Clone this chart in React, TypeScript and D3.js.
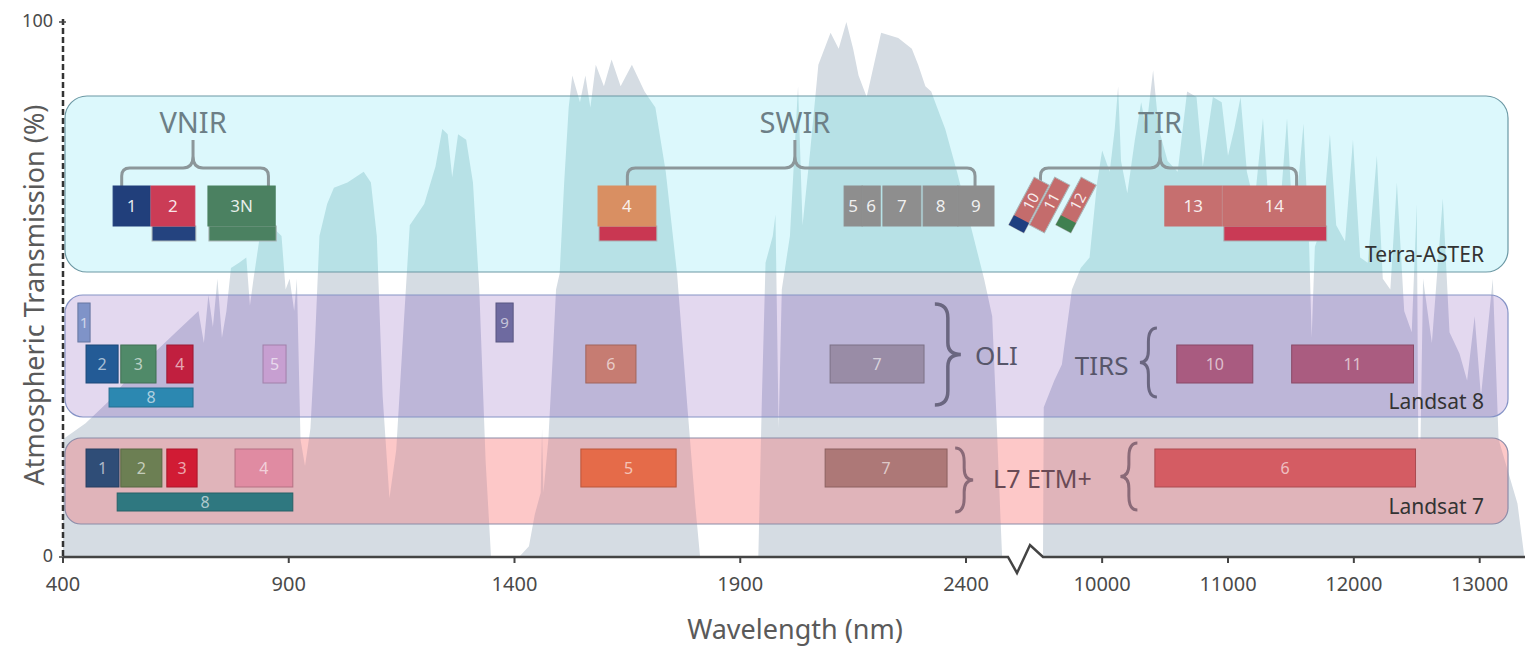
import React from "react";
import * as d3 from "d3";

const W = 1537;
const H = 647;

// atmospheric transmission, [wavelength nm, %]
const TRANSMISSION_VIS_SWIR: [number, number][] = [
  [400, 22], [450, 25], [500, 29], [550, 34], [600, 38], [650, 42], [700, 46],
  [712, 40], [722, 49], [732, 43], [742, 52], [752, 41], [762, 46], [772, 54],
  [790, 55], [806, 56], [814, 47], [822, 52], [836, 60], [860, 62], [884, 60],
  [893, 50], [902, 52], [912, 46], [918, 52], [926, 22], [936, 17], [948, 24],
  [958, 40], [968, 60], [985, 66], [1000, 69], [1030, 70], [1066, 72], [1082, 70],
  [1095, 60], [1108, 30], [1123, 11], [1138, 20], [1155, 44], [1168, 62], [1200, 66],
  [1225, 73], [1240, 80], [1252, 79], [1262, 71], [1275, 79], [1293, 78], [1308, 70],
  [1322, 50], [1336, 18], [1348, 0], [1410, 0], [1432, 2], [1445, 8], [1458, 12],
  [1461, 24], [1464, 12], [1475, 22], [1485, 38], [1492, 50], [1500, 53], [1510, 70],
  [1520, 84], [1528, 90], [1545, 85], [1557, 90], [1568, 84], [1580, 92], [1598, 88],
  [1615, 93], [1635, 88], [1660, 92], [1688, 87], [1712, 84], [1735, 72], [1760, 53],
  [1782, 29], [1800, 10], [1811, 0], [1940, 0], [1948, 30], [1956, 55], [1972, 60],
  [1978, 64], [1985, 24], [1992, 50], [2010, 60], [2028, 88], [2038, 62], [2055, 76],
  [2073, 92], [2100, 98], [2118, 95], [2135, 100], [2150, 95], [2162, 90], [2180, 86],
  [2196, 92], [2212, 98], [2250, 97], [2280, 95], [2294, 92], [2310, 88], [2323, 87],
  [2336, 84], [2354, 80], [2380, 72], [2410, 62], [2440, 52], [2458, 45], [2468, 25],
  [2476, 8], [2480, 0],
];

const TRANSMISSION_TIR: [number, number][] = [
  [9530, 0], [9536, 28], [9620, 33], [9680, 36], [9760, 50], [9830, 54], [9900, 56],
  [9960, 70], [10000, 76], [10060, 72], [10100, 80], [10127, 88], [10150, 74],
  [10200, 68], [10260, 78], [10310, 85], [10350, 80], [10405, 91], [10450, 80],
  [10520, 74], [10600, 72], [10675, 87], [10750, 86], [10800, 73], [10880, 86],
  [10950, 85], [11000, 75], [11050, 80], [11100, 86], [11150, 72], [11210, 66],
  [11278, 82], [11330, 63], [11400, 61], [11469, 82], [11520, 60], [11600, 81],
  [11645, 58], [11665, 41], [11690, 58], [11750, 62], [11810, 79], [11860, 62],
  [11930, 59], [11993, 78], [12050, 56], [12110, 55], [12183, 75], [12230, 52],
  [12290, 50], [12342, 70], [12400, 46], [12460, 42], [12500, 66], [12512, 22],
  [12530, 22], [12550, 52], [12620, 40], [12707, 67], [12760, 42], [12840, 38],
  [12900, 33], [12960, 45], [13010, 30], [13104, 52], [13150, 22], [13200, 18],
  [13300, 10], [13355, 0],
];

const TICKS_VIS_SWIR = [400, 900, 1400, 1900, 2400];
const TICKS_TIR = [10000, 11000, 12000, 13000];
const Y_TICKS = [0, 100];

type Band = { name: string; lo: number; hi: number };

// Terra-ASTER
const ASTER_BANDS: Band[] = [
  { name: "1", lo: 511, hi: 593 },
  { name: "2", lo: 595, hi: 692 },
  { name: "3N", lo: 721, hi: 870 },
  { name: "4", lo: 1585, hi: 1713 },
  { name: "5", lo: 2130, hi: 2170 },
  { name: "6", lo: 2170, hi: 2210 },
  { name: "7", lo: 2216, hi: 2300 },
  { name: "8", lo: 2305, hi: 2382 },
  { name: "9", lo: 2382, hi: 2462 },
  { name: "13", lo: 10498, hi: 10951 },
  { name: "14", lo: 10959, hi: 11776 },
];
// off-axis TIR bands drawn tilted inside the axis break
const ASTER_TILTED: Band[] = [
  { name: "10", lo: 8125, hi: 8475 },
  { name: "11", lo: 8475, hi: 8825 },
  { name: "12", lo: 8925, hi: 9275 },
];
const ASTER_GROUPS = [
  { label: "VNIR", lo: 530, hi: 855, mid: 688 },
  { label: "SWIR", lo: 1650, hi: 2420, mid: 2021 },
  { label: "TIR", lo: 9510, hi: 11545, mid: 10460 },
];

// Landsat 8 (OLI + TIRS)
const L8_NARROW: Band[] = [
  { name: "1", lo: 433, hi: 460 },
  { name: "9", lo: 1359, hi: 1397 },
];
const L8_MAIN: Band[] = [
  { name: "2", lo: 451, hi: 522 },
  { name: "3", lo: 528, hi: 606 },
  { name: "4", lo: 630, hi: 688 },
  { name: "5", lo: 843, hi: 894 },
  { name: "6", lo: 1558, hi: 1669 },
  { name: "7", lo: 2099, hi: 2307 },
  { name: "10", lo: 10593, hi: 11197 },
  { name: "11", lo: 11506, hi: 12474 },
];
const L8_PAN: Band[] = [{ name: "8", lo: 502, hi: 688 }];

// Landsat 7 ETM+
const L7_MAIN: Band[] = [
  { name: "1", lo: 451, hi: 524 },
  { name: "2", lo: 528, hi: 619 },
  { name: "3", lo: 630, hi: 697 },
  { name: "4", lo: 781, hi: 909 },
  { name: "5", lo: 1547, hi: 1758 },
  { name: "7", lo: 2088, hi: 2358 },
  { name: "6", lo: 10419, hi: 12490 },
];
const L7_PAN: Band[] = [{ name: "8", lo: 520, hi: 909 }];

// colours
const ASTER_COLOR: Record<string, string> = {
  "1": "#213f7b", "2": "#cb3c56", "3N": "#4b8161", "4": "#d98f62",
  "5": "#8e8e8e", "6": "#8e8e8e", "7": "#8e8e8e", "8": "#8e8e8e", "9": "#8e8e8e",
  "10": "#c46c6c", "11": "#c46c6c", "12": "#c46c6c", "13": "#c66f6f", "14": "#c66f6f",
};
const ASTER_STRIP: Record<string, string> = {
  "2": "#24437f", "3N": "#4b8161", "4": "#c93752", "14": "#c93a55",
  "10": "#1e3f80", "12": "#3f8050",
};
const L8_COLOR: Record<string, string> = {
  "1": "#7f93c8", "2": "#235b96", "3": "#508a69", "4": "#c11f3f", "5": "#c79fd1",
  "6": "#c67c72", "7": "#998ca6", "8": "#2c88b1", "9": "#6e6aa0", "10": "#a95b80",
  "11": "#aa5c80",
};
const L7_COLOR: Record<string, string> = {
  "1": "#2f4d77", "2": "#6c7f53", "3": "#d11b34", "4": "#e08ba2", "5": "#e56b49",
  "7": "#ad7877", "8": "#2f7880", "6": "#d45c63",
};

const FONT = "'Noto Sans', 'Open Sans', sans-serif";

// scales: broken x axis (VIS/SWIR | TIR)
const xVis = d3.scaleLinear().domain([400, 2493]).range([63, 1008]);
const xTir = d3.scaleLinear().domain([9530, 13360]).range([1043, 1525]);
const xs = (nm: number) => (nm < 5000 ? xVis(nm) : xTir(nm));
const xTilt = d3.scaleLinear().domain([8300, 9100]).range([1029, 1076]);
const y = d3.scaleLinear().domain([0, 100]).range([557, 22]);

// sensor panels: background, curve tint inside, border
const PANELS = [
  { id: "aster", y0: 96, y1: 272, rx: 22, fill: "#dcf8fc", curve: "#b7e1e6", stroke: "#6b98a4" },
  { id: "l8", y0: 295, y1: 417, rx: 18, fill: "#e3d8ef", curve: "#bdb6d8", stroke: "#8593c6" },
  { id: "l7", y0: 438, y1: 524, rx: 16, fill: "#fdc8c8", curve: "#e0b4ba", stroke: "#8c8ca8" },
];

const hBrace = (x0: number, x1: number, xm: number, yl: number, yb: number, tip: number) => {
  const r = 8;
  return (
    `M${x0},${yb} V${yl + r} Q${x0},${yl} ${x0 + r},${yl} H${xm - 10} Q${xm},${yl} ${xm},${yl - 12} V${yl - tip}` +
    `M${xm},${yl - tip} V${yl - 12} Q${xm},${yl} ${xm + 10},${yl} H${x1 - r} Q${x1},${yl} ${x1},${yl + r} V${yb}`
  );
};

// vertical curly brace; dir 1 = "}" (tip to the right), -1 = "{"
const vBrace = (x: number, y0: number, y1: number, w: number, dir: number) => {
  const ym = (y0 + y1) / 2;
  const xc = x + dir * w * 0.5;
  const xt = x + dir * w;
  return `M${x},${y0} Q${xc},${y0} ${xc},${y0 + 14} V${ym - 12} Q${xc},${ym} ${xt},${ym} Q${xc},${ym} ${xc},${ym + 12} V${y1 - 14} Q${xc},${y1} ${x},${y1}`;
};

const BandRect = ({
  b, y0, h, fill, stroke, label, fs,
}: { b: Band; y0: number; h: number; fill: string; stroke: string; label: string; fs: number }) => {
  const x0 = xs(b.lo);
  const x1 = xs(b.hi);
  return (
    <g>
      <rect x={x0} y={y0} width={x1 - x0} height={h} fill={fill} stroke={stroke} strokeWidth={1} />
      <text x={(x0 + x1) / 2} y={y0 + h / 2} dy="0.36em" textAnchor="middle" fontSize={fs}
        fontFamily={FONT} fill={label}>{b.name}</text>
    </g>
  );
};

export default function App() {
  const area = d3
    .area<[number, number]>()
    .x((d) => xs(d[0]))
    .y0(y(0))
    .y1((d) => y(d[1]));
  const curveVis = area(TRANSMISSION_VIS_SWIR) || "";
  const curveTir = area(TRANSMISSION_TIR) || "";

  const axisPath = `M${xVis(400)},${y(0)} H${xVis(2493)} L${xVis(2493) + 9},${y(0) + 16} L${xTir(9530) - 13},${y(0) - 12} L${xTir(9530)},${y(0)} H${xTir(13360)}`;

  const boxX0 = 65;
  const boxX1 = 1508;
  const fadedLabel = "rgba(255,255,255,0.62)";

  return (
    <svg width={W} height={H} style={{ position: "fixed", left: 0, top: 0, display: "block" }}>
      <defs>
        {PANELS.map((p) => (
          <clipPath key={p.id} id={`clip-${p.id}`}>
            <rect x={boxX0} y={p.y0} width={boxX1 - boxX0} height={p.y1 - p.y0} rx={p.rx} />
          </clipPath>
        ))}
      </defs>
      <rect width={W} height={H} fill="#ffffff" />

      {/* transmission curve */}
      <path d={curveVis} fill="#d5dce3" />
      <path d={curveTir} fill="#d5dce3" />

      {/* sensor panels with tinted curve inside */}
      {PANELS.map((p) => (
        <g key={p.id}>
          <rect x={boxX0} y={p.y0} width={boxX1 - boxX0} height={p.y1 - p.y0} rx={p.rx} fill={p.fill} />
          <g clipPath={`url(#clip-${p.id})`}>
            <path d={curveVis} fill={p.curve} />
            <path d={curveTir} fill={p.curve} />
          </g>
          <rect x={boxX0} y={p.y0} width={boxX1 - boxX0} height={p.y1 - p.y0} rx={p.rx}
            fill="none" stroke={p.stroke} strokeWidth={1.2} />
        </g>
      ))}

      {/* y axis */}
      <line x1={63} x2={63} y1={y(100) - 3} y2={y(0)} stroke="#333" strokeWidth={2.5} strokeDasharray="6 3" />
      {Y_TICKS.map((t) => (
        <g key={t}>
          <line x1={59} x2={66} y1={y(t)} y2={y(t)} stroke="#444" strokeWidth={1.5} />
          <text x={53} y={y(t)} dy="0.3em" textAnchor="end" fontSize={18} fontFamily={FONT} fill="#4a4a4a">{t}</text>
        </g>
      ))}
      <text transform={`translate(44,295) rotate(-90)`} textAnchor="middle" fontSize={27} fontFamily={FONT} fill="#5a5a5a">
        Atmospheric Transmission (%)
      </text>

      {/* x axis with break */}
      <path d={axisPath} fill="none" stroke="#444" strokeWidth={2.5} strokeLinejoin="miter" />
      {TICKS_VIS_SWIR.map((t) => (
        <g key={t}>
          <line x1={xVis(t)} x2={xVis(t)} y1={y(0)} y2={y(0) + 6} stroke="#444" strokeWidth={2} />
          <text x={xVis(t)} y={591} textAnchor="middle" fontSize={20} fontFamily={FONT} fill="#4a4a4a">{t}</text>
        </g>
      ))}
      {TICKS_TIR.map((t) => (
        <g key={t}>
          <line x1={xTir(t)} x2={xTir(t)} y1={y(0)} y2={y(0) + 6} stroke="#444" strokeWidth={2} />
          <text x={xTir(t)} y={591} textAnchor="middle" fontSize={20} fontFamily={FONT} fill="#4a4a4a">{t}</text>
        </g>
      ))}
      <text x={795} y={639} textAnchor="middle" fontSize={27} fontFamily={FONT} fill="#5a5a5a">Wavelength (nm)</text>

      {/* ASTER */}
      {ASTER_GROUPS.map((g) => {
        const xm = xs(g.mid);
        return (
          <g key={g.label}>
            <path d={hBrace(xs(g.lo), xs(g.hi), xm, 168, 186, 28)} fill="none" stroke="#8c979a" strokeWidth={3} />
            <text x={xm} y={133} textAnchor="middle" fontSize={29} fontFamily={FONT} fill="#6d7f86">{g.label}</text>
          </g>
        );
      })}
      {ASTER_BANDS.map((b) => (
        <g key={b.name}>
          {ASTER_STRIP[b.name] && (
            <rect x={xs(b.lo) + 1} y={226} width={xs(b.hi) - xs(b.lo)} height={15}
              fill={ASTER_STRIP[b.name]} stroke="#a9b4b6" strokeWidth={1} />
          )}
          <BandRect b={b} y0={186} h={40} fill={ASTER_COLOR[b.name]} stroke={ASTER_COLOR[b.name]}
            label="rgba(255,255,255,0.88)" fs={17} />
        </g>
      ))}
      {ASTER_TILTED.map((b) => (
        <g key={b.name} transform={`translate(${xTilt((b.lo + b.hi) / 2)},205) rotate(28)`}>
          <rect x={-8.5} y={-27} width={17} height={54} fill={ASTER_COLOR[b.name]} stroke="#a9b4b6" strokeWidth={1} />
          {ASTER_STRIP[b.name] && (
            <rect x={-8.5} y={16} width={17} height={11} fill={ASTER_STRIP[b.name]} />
          )}
          <text transform="translate(0,-4) rotate(-90)" dy="0.36em" textAnchor="middle" fontSize={15}
            fontFamily={FONT} fill="rgba(255,255,255,0.88)">{b.name}</text>
        </g>
      ))}
      <text x={1484} y={262} textAnchor="end" fontSize={21} fontFamily={FONT} fill="#333">Terra-ASTER</text>

      {/* Landsat 8 */}
      {L8_NARROW.map((b) => (
        <BandRect key={b.name} b={b} y0={303} h={39} fill={L8_COLOR[b.name]}
          stroke={d3.color(L8_COLOR[b.name])!.darker(0.6).toString()} label={fadedLabel} fs={15} />
      ))}
      {L8_MAIN.map((b) => (
        <BandRect key={b.name} b={b} y0={345} h={38} fill={L8_COLOR[b.name]}
          stroke={d3.color(L8_COLOR[b.name])!.darker(0.6).toString()} label={fadedLabel} fs={16} />
      ))}
      {L8_PAN.map((b) => (
        <BandRect key={b.name} b={b} y0={388} h={19} fill={L8_COLOR[b.name]}
          stroke={d3.color(L8_COLOR[b.name])!.darker(0.6).toString()} label={fadedLabel} fs={16} />
      ))}
      <path d={vBrace(xVis(2331), 304, 405, 26, 1)} fill="none" stroke="#6a6680" strokeWidth={3.5} />
      <text x={xVis(2420)} y={365} fontSize={26} fontFamily={FONT} fill="#57566a">OLI</text>
      <path d={vBrace(xTir(10435), 328, 397, 17, -1)} fill="none" stroke="#6a6680" strokeWidth={3} />
      <text x={xTir(10210)} y={375} textAnchor="end" fontSize={26} fontFamily={FONT} fill="#57566a">TIRS</text>
      <text x={1484} y={409} textAnchor="end" fontSize={21} fontFamily={FONT} fill="#333">Landsat 8</text>

      {/* Landsat 7 */}
      {L7_MAIN.map((b) => (
        <BandRect key={b.name} b={b} y0={449} h={38} fill={L7_COLOR[b.name]}
          stroke={d3.color(L7_COLOR[b.name])!.darker(0.6).toString()} label={fadedLabel} fs={16} />
      ))}
      {L7_PAN.map((b) => (
        <BandRect key={b.name} b={b} y0={493} h={18} fill={L7_COLOR[b.name]}
          stroke={d3.color(L7_COLOR[b.name])!.darker(0.6).toString()} label={fadedLabel} fs={16} />
      ))}
      <path d={vBrace(xVis(2376), 448, 512, 18, 1)} fill="none" stroke="#8a6a78" strokeWidth={3} />
      <text x={xVis(2460)} y={488} fontSize={25} fontFamily={FONT} fill="#6a4a55">L7 ETM+</text>
      <path d={vBrace(xTir(10280), 443, 510, 17, -1)} fill="none" stroke="#8a6a78" strokeWidth={3} />
      <text x={1484} y={514} textAnchor="end" fontSize={21} fontFamily={FONT} fill="#333">Landsat 7</text>
    </svg>
  );
}
